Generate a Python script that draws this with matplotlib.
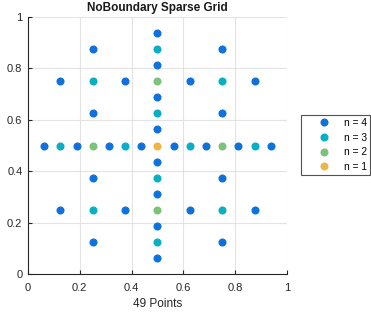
import matplotlib
matplotlib.use("Agg")
import matplotlib.pyplot as plt
import numpy as np

plt.rcParams['font.family'] = ['Liberation Sans', 'DejaVu Sans']

# Data: sparse grid points by level
x4 = [0.0625, 0.1875, 0.3125, 0.4375, 0.5625, 0.6875, 0.8125, 0.9375,
      0.5, 0.5, 0.5, 0.5, 0.5, 0.5, 0.5, 0.5,
      0.125, 0.375, 0.625, 0.875, 0.125, 0.375, 0.625, 0.875,
      0.25, 0.25, 0.25, 0.25, 0.75, 0.75, 0.75, 0.75]
y4 = [0.5, 0.5, 0.5, 0.5, 0.5, 0.5, 0.5, 0.5,
      0.0625, 0.1875, 0.3125, 0.4375, 0.5625, 0.6875, 0.8125, 0.9375,
      0.25, 0.25, 0.25, 0.25, 0.75, 0.75, 0.75, 0.75,
      0.125, 0.375, 0.625, 0.875, 0.125, 0.375, 0.625, 0.875]
x3 = [0.125, 0.375, 0.625, 0.875, 0.5, 0.5, 0.5, 0.5, 0.25, 0.25, 0.75, 0.75]
y3 = [0.5, 0.5, 0.5, 0.5, 0.125, 0.375, 0.625, 0.875, 0.25, 0.75, 0.25, 0.75]
x2 = [0.25, 0.75, 0.5, 0.5]
y2 = [0.5, 0.5, 0.25, 0.75]
x1 = [0.5]
y1 = [0.5]
labels = ['n = 4', 'n = 3', 'n = 2', 'n = 1']
colors = ['#0F72DC', '#0AAFC4', '#7CC27A', '#EDB64A']
ticks = [0, 0.2, 0.4, 0.6, 0.8, 1]
tick_labels = ['0', '0.2', '0.4', '0.6', '0.8', '1']

fig = plt.figure(figsize=(3.71, 3.21), dpi=100)
ax = fig.add_axes([0.0755, 0.1464, 0.698, 0.8006])

for xs, ys, lab, c in zip([x4, x3, x2, x1], [y4, y3, y2, y1], labels, colors):
    ax.plot(xs, ys, 'o', color=c, markersize=5.8, markeredgewidth=0, label=lab, zorder=3)

ax.set_xlim(0, 1)
ax.set_ylim(0, 1)
ax.set_xticks(ticks)
ax.set_xticklabels(tick_labels)
ax.set_yticks(ticks)
ax.set_yticklabels(tick_labels)
ax.grid(True, color='#E3E3E3', linewidth=0.8, zorder=0)
ax.set_axisbelow(True)
for s in ['top', 'right']:
    ax.spines[s].set_visible(False)
for s in ['left', 'bottom']:
    ax.spines[s].set_color('#262626')
    ax.spines[s].set_linewidth(0.8)
ax.tick_params(direction='in', length=3, width=0.8, colors='#262626', labelsize=8, pad=4)
ax.tick_params(axis='x', pad=6.5)
ax.set_xlabel('49 Points', fontsize=8.5, color='#262626', labelpad=3.5)
ax.set_title('NoBoundary Sparse Grid', fontsize=8.5, fontweight='bold', color='#1a1a1a', pad=4)

leg = ax.legend(loc='upper left', bbox_to_anchor=(1.054, 0.619), borderaxespad=0,
                fontsize=7.3, frameon=True, fancybox=False, edgecolor='#262626',
                borderpad=0.3, handletextpad=0.05, labelspacing=0.45,
                handlelength=3.9, markerscale=1.0)
leg.get_frame().set_linewidth(0.8)

fig.savefig('out.png', dpi=100)
